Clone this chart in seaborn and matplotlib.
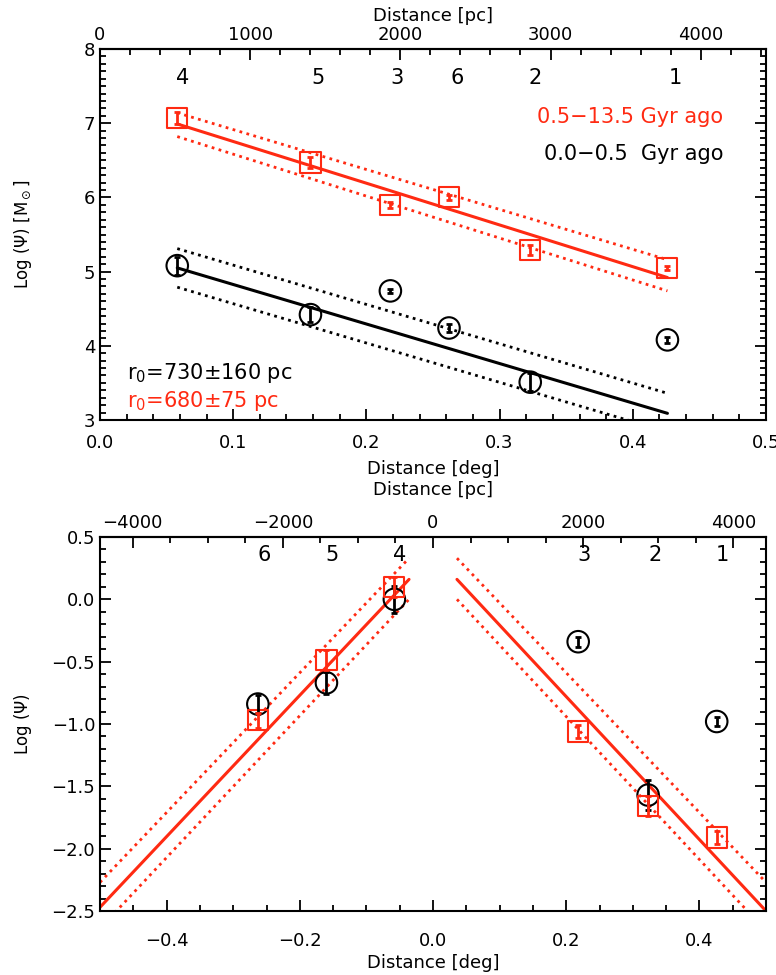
import numpy as np
import pandas as pd
import matplotlib
matplotlib.use("Agg")
import matplotlib.pyplot as plt
from matplotlib.ticker import MultipleLocator, FormatStrFormatter, FuncFormatter
import seaborn as sns

# ---------------- data ----------------
PC_PER_DEG = 8870.0
RED = "#ff2a12"

# top panel (distance in deg, log mass)
field_ids = ["4", "5", "3", "6", "2", "1"]
top_x = [0.058, 0.158, 0.218, 0.262, 0.323, 0.426]
old_y = [7.07, 6.47, 5.90, 6.00, 5.29, 5.05]
old_err = [0.08, 0.07, 0.04, 0.03, 0.07, 0.03]
young_y = [5.08, 4.42, 4.74, 4.24, 3.51, 4.08]
young_err = [0.12, 0.10, 0.03, 0.05, 0.12, 0.04]
top_label_x = [0.062, 0.164, 0.223, 0.268, 0.327, 0.432]

fit_x = [0.058, 0.426]
old_fit = [6.99, 4.92]
old_fit_hi = [7.14, 5.16]
old_fit_lo = [6.82, 4.74]
young_fit = [5.05, 3.09]
young_fit_hi = [5.31, 3.36]
young_fit_lo = [4.79, 2.84]

# bottom panel (signed distance in deg, log density)
bot_ids = ["6", "5", "4", "3", "2", "1"]
bot_x = [-0.263, -0.160, -0.058, 0.218, 0.323, 0.426]
bot_old_y = [-0.97, -0.49, 0.10, -1.06, -1.66, -1.91]
bot_old_err = [0.06, 0.08, 0.08, 0.05, 0.08, 0.05]
bot_young_y = [-0.84, -0.67, 0.00, -0.34, -1.57, -0.98]
bot_young_err = [0.07, 0.09, 0.11, 0.04, 0.12, 0.04]
bot_label_x = [-0.254, -0.152, -0.050, 0.227, 0.333, 0.434]

left_fit_x = [-0.5, -0.036]
left_fit = [-2.47, 0.16]
left_fit_hi = [-2.27, 0.33]
left_fit_lo = [-2.64, 0.00]
right_fit_x = [0.036, 0.5]
right_fit = [0.16, -2.50]
right_fit_hi = [0.33, -2.27]
right_fit_lo = [0.00, -2.66]

# ---------------- style ----------------
sns.set_style("ticks")
plt.rcParams["font.family"] = ["DejaVu Sans"]
plt.rcParams.update({
    "axes.linewidth": 1.5, "axes.edgecolor": "black",
    "text.color": "black", "axes.labelcolor": "black",
    "xtick.color": "black", "ytick.color": "black",
})

fig = plt.figure(figsize=(7.76, 9.75), dpi=100)
ax1 = fig.add_axes([100 / 776, 555 / 975, 666 / 776, 371 / 975])
ax2 = fig.add_axes([100 / 776, 64 / 975, 666 / 776, 374 / 975])

DOT = (0, (1, 1.6))
minus_fmt = FuncFormatter(lambda v, p: ("%.1f" % v).replace("-", "\u2212"))


def style_axis(ax, xpad):
    ax.tick_params(which="both", direction="in", top=False, right=True,
                   width=1.3, colors="black", labelsize=13)
    ax.tick_params(which="major", length=8)
    ax.tick_params(which="minor", length=4)
    ax.tick_params(axis="x", which="both", pad=xpad)
    for s in ax.spines.values():
        s.set_linewidth(1.5)


def line(ax, xs, ys, color, ls, lw):
    d = pd.DataFrame({"x": xs, "y": ys})
    sns.lineplot(data=d, x="x", y="y", ax=ax, color=color, linestyle=ls,
                 linewidth=lw, estimator=None, sort=False, legend=False)


def points(ax, xs, ys, errs, color, marker, size):
    d = pd.DataFrame({"x": xs, "y": ys, "e": errs})
    sns.scatterplot(data=d, x="x", y="y", ax=ax, marker=marker, s=size,
                    facecolor="none", edgecolor=color, linewidth=1.5,
                    legend=False, zorder=4)
    ax.errorbar(d["x"], d["y"], yerr=d["e"], fmt="none", ecolor=color,
                elinewidth=2.0, capsize=2.5, capthick=2.0, zorder=5)


# ---------------- top panel ----------------
line(ax1, fit_x, old_fit, RED, "-", 2.2)
line(ax1, fit_x, old_fit_hi, RED, DOT, 2.0)
line(ax1, fit_x, old_fit_lo, RED, DOT, 2.0)
line(ax1, fit_x, young_fit, "black", "-", 2.2)
line(ax1, fit_x, young_fit_hi, "black", DOT, 2.0)
line(ax1, fit_x, young_fit_lo, "black", DOT, 2.0)
points(ax1, top_x, old_y, old_err, RED, "s", 210)
points(ax1, top_x, young_y, young_err, "black", "o", 240)

ax1.set_xlim(0, 0.5)
ax1.set_ylim(3, 8)
ax1.xaxis.set_major_locator(MultipleLocator(0.1))
ax1.xaxis.set_minor_locator(MultipleLocator(0.02))
ax1.xaxis.set_major_formatter(FormatStrFormatter("%.1f"))
ax1.yaxis.set_major_locator(MultipleLocator(1))
ax1.yaxis.set_minor_locator(MultipleLocator(0.1))
ax1.yaxis.set_major_formatter(FormatStrFormatter("%d"))
style_axis(ax1, 10)
ax1.set_xlabel("Distance [deg]", fontsize=13, labelpad=6)
ax1.set_ylabel(r"Log ($\Psi$) [M$_\odot$]", fontsize=12)
ax1.yaxis.set_label_coords(-0.099, 0.5)

for lx, t in zip(top_label_x, field_ids):
    ax1.text(lx, 7.61, t, ha="center", va="center", fontsize=15)
ax1.text(0.468, 7.08, "0.5\u221213.5 Gyr ago", color=RED, ha="right",
         va="center", fontsize=15)
ax1.text(0.468, 6.59, "0.0\u22120.5  Gyr ago", color="black", ha="right",
         va="center", fontsize=15)
ax1.text(0.02, 3.64, r"r$_0$=730$\pm$160 pc", color="black", ha="left",
         va="center", fontsize=15)
ax1.text(0.02, 3.26, r"r$_0$=680$\pm$75 pc", color=RED, ha="left",
         va="center", fontsize=15)

sec1 = ax1.secondary_xaxis("top", functions=(lambda d: d * PC_PER_DEG,
                                             lambda p: p / PC_PER_DEG))
sec1.xaxis.set_major_locator(MultipleLocator(1000))
sec1.xaxis.set_minor_locator(MultipleLocator(200))
sec1.tick_params(which="both", direction="in", width=1.3, labelsize=13,
                 colors="black")
sec1.tick_params(which="major", length=8)
sec1.tick_params(which="minor", length=4)
sec1.set_xlabel("Distance [pc]", fontsize=13, labelpad=4)

# ---------------- bottom panel ----------------
for xs, a, b, c in [(left_fit_x, left_fit, left_fit_hi, left_fit_lo),
                    (right_fit_x, right_fit, right_fit_hi, right_fit_lo)]:
    line(ax2, xs, a, RED, "-", 2.2)
    line(ax2, xs, b, RED, DOT, 2.0)
    line(ax2, xs, c, RED, DOT, 2.0)
points(ax2, bot_x, bot_young_y, bot_young_err, "black", "o", 240)
points(ax2, bot_x, bot_old_y, bot_old_err, RED, "s", 210)

ax2.set_xlim(-0.5, 0.5)
ax2.set_ylim(-2.5, 0.5)
ax2.xaxis.set_major_locator(MultipleLocator(0.2))
ax2.xaxis.set_minor_locator(MultipleLocator(0.05))
ax2.xaxis.set_major_formatter(minus_fmt)
ax2.yaxis.set_major_locator(MultipleLocator(0.5))
ax2.yaxis.set_minor_locator(MultipleLocator(0.1))
ax2.yaxis.set_major_formatter(minus_fmt)
style_axis(ax2, 15)
ax2.set_xlabel("Distance [deg]", fontsize=13, labelpad=3)
ax2.set_ylabel(r"Log ($\Psi$)", fontsize=12)
ax2.yaxis.set_label_coords(-0.099, 0.5)

for lx, t in zip(bot_label_x, bot_ids):
    ax2.text(lx, 0.355, t, ha="center", va="center", fontsize=15)

sec2 = ax2.secondary_xaxis("top", functions=(lambda d: d * PC_PER_DEG,
                                             lambda p: p / PC_PER_DEG))
sec2.xaxis.set_major_locator(MultipleLocator(2000))
sec2.xaxis.set_minor_locator(MultipleLocator(500))
sec2.tick_params(which="both", direction="in", width=1.3, labelsize=13,
                 colors="black")
sec2.tick_params(which="major", length=8)
sec2.tick_params(which="minor", length=4)
sec2.set_xlabel("Distance [pc]", fontsize=13, labelpad=14)

fig.savefig("out.png", dpi=100)
